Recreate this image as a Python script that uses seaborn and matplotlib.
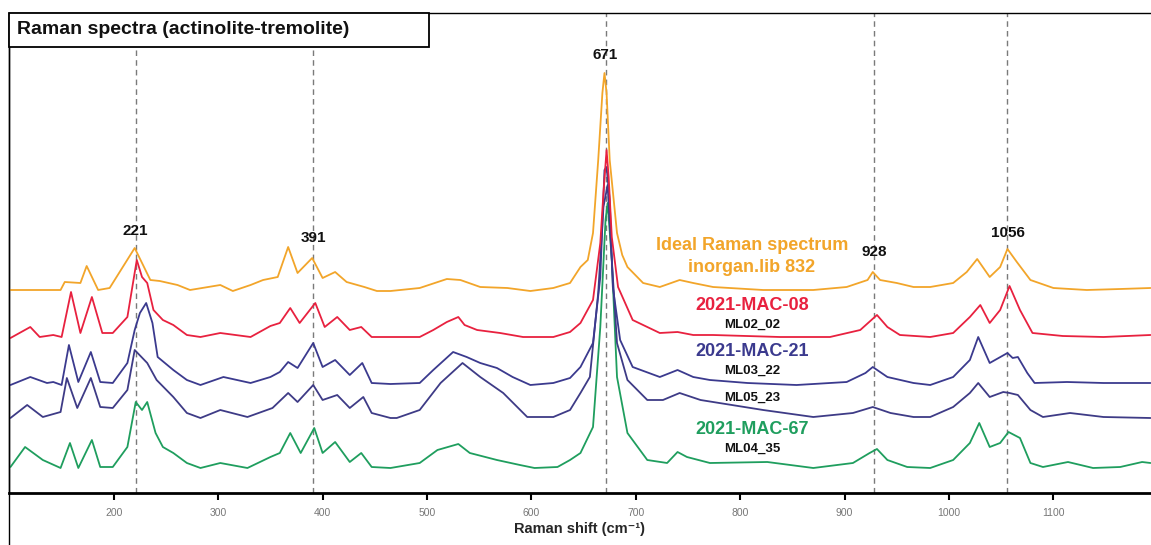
import matplotlib
matplotlib.use("Agg")
import matplotlib.pyplot as plt
import seaborn as sns
import pandas as pd
from matplotlib.patches import Rectangle
from matplotlib.lines import Line2D

# ---------------- data (Raman shift cm-1, intensity a.u. incl. stacking offset) ----------------
ideal_832 = [(101,203),(149,203),(153,211),(168,210),(174,227),(185,203),(196,205),(220,245),(235,213),
             (244,212),(261,208),(273,203),(302,208),(314,202),(331,208),(343,213),(357,216),(367,246),
             (376,220),(390,235),(400,215),(412,221),(423,211),(440,206),(452,202),(465,202),(493,205),
             (519,214),(532,213),(551,206),(577,205),(599,202),(621,205),(637,210),(647,226),(654,233),
             (659,260),(664,333),(668,400),(670,420),(672,400),(675,333),(682,260),(687,238),(692,226),
             (707,210),(723,206),(742,213),(755,210),(774,206),(822,203),(870,203),(902,206),(922,213),
             (927,221),(934,213),(950,210),(966,206),(982,206),(1004,210),(1017,221),(1027,234),(1039,216),
             (1049,226),(1056,244),(1065,231),(1078,213),(1100,205),(1132,203),(1164,204),(1193,205)]

mac08_ml02_02 = [(101,155),(120,166),(129,156),(142,158),(150,156),(159,201),(168,160),(179,196),(189,160),
                 (199,160),(213,176),(222,233),(227,216),(232,210),(238,183),(247,173),(257,168),(270,158),
                 (283,156),(302,160),(331,156),(350,167),(359,170),(369,185),(378,170),(393,190),(402,166),
                 (414,176),(426,163),(437,166),(447,156),(465,156),(493,156),(506,163),(519,171),(530,176),
                 (536,168),(548,163),(570,160),(592,156),(621,156),(637,161),(647,170),(659,193),(666,250),
                 (669,300),(672,343),(674,316),(677,256),(683,206),(697,173),(723,160),(740,161),(755,158),
                 (774,158),(838,156),(886,156),(915,163),(931,178),(941,166),(953,158),(982,156),(1004,160),
                 (1020,176),(1030,188),(1039,170),(1049,183),(1058,207),(1068,183),(1080,160),(1109,157),
                 (1148,156),(1193,158)]

mac21_ml03_22 = [(101,108),(120,116),(136,110),(142,111),(150,108),(157,148),(166,111),(178,141),(187,111),
                 (199,110),(213,130),(220,163),(225,180),(231,190),(237,170),(242,136),(257,123),(270,113),
                 (283,108),(305,116),(331,110),(350,116),(359,121),(367,131),(376,125),(391,150),(400,126),
                 (412,133),(426,118),(438,130),(447,110),(465,109),(493,110),(506,123),(525,141),(538,136),
                 (551,130),(567,125),(582,116),(599,108),(621,110),(637,115),(647,126),(659,150),(666,216),
                 (670,323),(672,326),(675,293),(678,206),(685,153),(697,126),(723,116),(740,123),(755,116),
                 (771,113),(807,110),(854,108),(902,111),(920,120),(927,126),(941,116),(966,110),(982,108),
                 (1004,116),(1020,133),(1028,156),(1039,130),(1056,140),(1061,135),(1066,136),(1075,120),
                 (1082,110),(1113,111),(1148,110),(1193,110)]

mac21_ml05_23 = [(101,75),(117,88),(132,76),(149,81),(155,115),(165,85),(178,115),(187,86),(199,85),
                 (213,103),(220,143),(232,130),(241,113),(257,96),(270,80),(283,75),(302,83),(328,76),
                 (352,85),(367,100),(376,91),(391,108),(400,93),(414,98),(426,85),(439,96),(447,80),
                 (465,75),(471,75),(493,83),(513,110),(534,130),(551,116),(573,100),(596,76),(621,76),
                 (637,83),(647,100),(656,116),(664,200),(669,286),(673,308),(677,233),(682,150),(692,113),
                 (711,93),(726,93),(742,100),(762,93),(774,91),(822,83),(870,76),(908,80),(927,86),(944,80),
                 (966,76),(982,76),(1004,86),(1020,100),(1028,110),(1039,96),(1052,101),(1058,100),
                 (1066,98),(1078,83),(1090,76),(1116,80),(1148,76),(1193,75)]

mac67_ml04_35 = [(101,26),(115,46),(132,33),(149,25),(158,50),(166,25),(179,53),(187,26),(199,26),
                 (213,46),(221,91),(227,83),(232,91),(240,60),(247,46),(257,40),(270,30),(283,25),
                 (302,30),(328,25),(350,36),(359,40),(369,60),(379,40),(392,65),(400,40),(412,51),
                 (426,31),(437,40),(447,26),(465,25),(493,30),(510,43),(530,49),(541,40),(567,33),
                 (589,28),(603,25),(625,26),(637,33),(647,40),(659,66),(666,166),(671,273),(673,290),
                 (677,233),(682,116),(692,60),(711,33),(730,30),(740,41),(749,36),(771,30),(826,31),
                 (870,25),(908,30),(924,40),(931,44),(941,33),(960,26),(982,25),(1004,33),(1020,50),
                 (1029,70),(1039,46),(1049,50),(1057,61),(1068,55),(1078,30),(1090,26),(1114,31),
                 (1138,25),(1164,26),(1185,31),(1193,30)]

peak_positions = [221, 391, 671, 928, 1056]
peak_labels = ["221", "391", "671", "928", "1056"]
peak_label_heights = [262, 255, 438, 241, 260]

x_ticks = [200, 300, 400, 500, 600, 700, 800, 900, 1000, 1100]

series_order = [("2021-MAC-67 ML04_35", mac67_ml04_35, "#1f9e5e"),
                 ("2021-MAC-21 ML05_23", mac21_ml05_23, "#3e3b86"),
                 ("2021-MAC-21 ML03_22", mac21_ml03_22, "#3b3a8e"),
                 ("2021-MAC-08 ML02_02", mac08_ml02_02, "#e8213f"),
                 ("Ideal inorgan.lib 832", ideal_832, "#f2a52a")]

# ---------------- figure ----------------
sns.set_theme(style="white")
plt.rcParams["font.family"] = ["Liberation Sans", "DejaVu Sans"]

W, H = 1151, 545
fig = plt.figure(figsize=(W / 100, H / 100), dpi=100)
ax = fig.add_axes([9 / W, (H - 493) / H, (W - 9) / W, (493 - 13) / H])

for x in peak_positions:
    ax.axvline(x, color="#7a7a7a", lw=1.0, ls=(0, (4, 3)), zorder=1)

for name, pts, col in series_order:
    df = pd.DataFrame(pts, columns=["shift", "intensity"])
    sns.lineplot(data=df, x="shift", y="intensity", ax=ax, color=col, lw=1.3,
                 estimator=None, sort=False, zorder=3)

ax.set_xlim(99.6, 1193.5)
ax.set_ylim(0, 480)
ax.set_yticks([])
ax.set_xticks(x_ticks)
ax.set_xticklabels([str(t) for t in x_ticks], fontsize=7.5, color="#777777")
ax.tick_params(axis="x", direction="out", length=5, width=1.5, color="black", pad=6, bottom=True)
ax.set_xlabel("Raman shift (cm⁻¹)", fontsize=10.5, fontweight="bold", labelpad=3)
ax.set_ylabel("")

for side in ["left", "top", "bottom"]:
    ax.spines[side].set_visible(True)
    ax.spines[side].set_color("black")
ax.spines["left"].set_linewidth(1.0)
ax.spines["top"].set_linewidth(1.0)
ax.spines["bottom"].set_linewidth(2.0)
ax.spines["right"].set_visible(False)

# left frame line continuing below the axis
fig.add_artist(Line2D([9 / W, 9 / W], [0, (H - 13) / H], color="black", lw=1.0))

# peak labels
for x, lab, yy in zip(peak_positions, peak_labels, peak_label_heights):
    ax.text(x, yy, lab, ha="center", va="center", fontsize=11, fontweight="bold",
            color="#111111", zorder=5)

# spectrum labels (x in axes fraction, y in data units)
lx = (752 - 9) / (W - 9)
tr = ax.get_yaxis_transform()
def label(y, s, size, col):
    ax.text(lx, y, s, transform=tr, ha="center", va="center", fontsize=size,
            fontweight="bold", color=col, zorder=5)

label(247, "Ideal Raman spectrum", 13, "#f2a52a")
label(225, "inorgan.lib 832", 13, "#f2a52a")
label(187, "2021-MAC-08", 13, "#e8213f")
label(168, "ML02_02", 9.5, "#111111")
label(141, "2021-MAC-21", 13, "#3b3a8e")
label(122, "ML03_22", 9.5, "#111111")
label(95, "ML05_23", 9.5, "#111111")
label(63, "2021-MAC-67", 13, "#1f9e5e")
label(44, "ML04_35", 9.5, "#111111")

# title box
fig.add_artist(Rectangle((9 / W, (H - 47) / H), (429 - 9) / W, 34 / H, transform=fig.transFigure,
                         facecolor="white", edgecolor="black", lw=1.3, zorder=10))
fig.text(17 / W, (H - 30) / H, "Raman spectra (actinolite-tremolite)", ha="left", va="center",
         fontsize=14, fontweight="bold", color="#111111", zorder=11)

fig.savefig("out.png", dpi=100)
